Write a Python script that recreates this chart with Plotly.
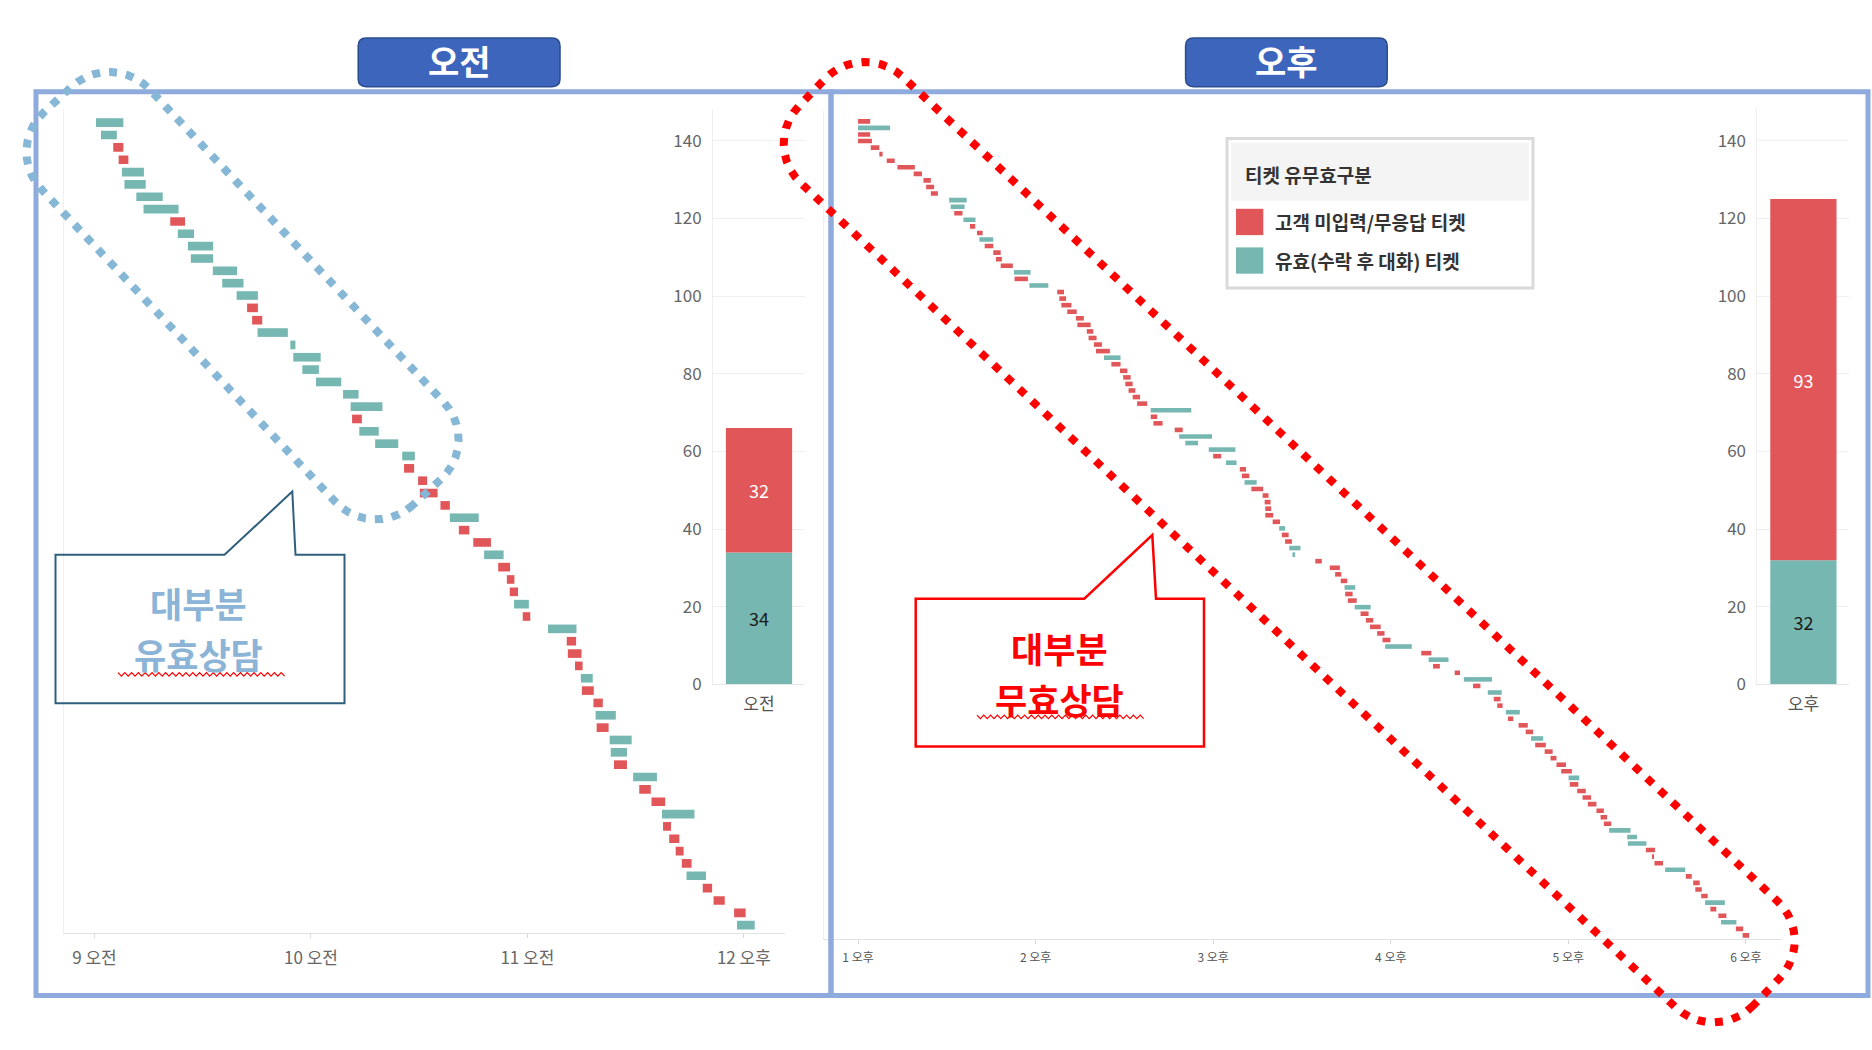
import math
import plotly.graph_objects as go

W, H = 1872, 1050

# 오전 티켓: 시작(09:00 이후 분), 상담 시간(분), 유효 여부(1=유효, 0=무효)
am_start = [0.4, 1.8, 5.2, 6.7, 7.6, 8.3, 11.6, 13.6, 21.0, 23.1,
            25.9, 26.7, 32.8, 35.4, 39.4, 42.3, 43.7, 45.2, 54.3, 55.1,
            57.6, 61.4, 68.9, 71.0, 71.4, 73.4, 77.8, 85.3, 85.8, 89.7,
            90.2, 95.9, 98.5, 101.0, 105.0, 108.0, 111.9, 114.3, 115.1, 116.3,
            118.7, 125.7, 130.9, 131.2, 133.2, 134.8, 135.1, 138.3, 138.9, 139.2,
            142.8, 143.1, 144.0, 149.3, 151.0, 154.4, 157.3, 157.6, 159.3, 161.1,
            162.8, 164.1, 168.6, 171.6, 177.3, 178.1]
am_dur = [7.6, 4.4, 2.8, 2.7, 6.1, 5.9, 7.3, 9.7, 4.1, 4.5,
          7.0, 6.2, 6.7, 5.9, 5.9, 3.0, 2.8, 8.4, 1.4, 7.6,
          4.6, 7.0, 4.3, 8.8, 2.7, 5.4, 6.4, 3.5, 2.8, 2.5,
          4.9, 2.6, 8.0, 2.9, 4.9, 5.4, 3.3, 2.1, 2.3, 4.1,
          2.1, 7.9, 2.6, 3.8, 2.1, 3.3, 3.3, 2.6, 5.6, 3.3,
          6.1, 4.5, 3.6, 6.6, 3.2, 3.8, 9.0, 2.2, 2.8, 2.2,
          2.7, 5.4, 2.6, 3.1, 3.2, 4.9]
am_valid = [1, 1, 0, 0, 1, 1, 1, 1, 0, 1,
            1, 1, 1, 1, 1, 0, 0, 1, 1, 1,
            1, 1, 1, 1, 0, 1, 1, 1, 0, 0,
            0, 0, 1, 0, 0, 1, 0, 0, 0, 1,
            0, 1, 0, 0, 0, 1, 0, 0, 1, 0,
            1, 1, 0, 1, 0, 0, 1, 0, 0, 0,
            0, 1, 0, 0, 0, 1]

# 오후 티켓: 시작(13:00 이후 분)
pm_start = [0, 0, 0, 0, 4.3, 7.2, 9.7, 13.3, 18.8, 22.1,
            23.0, 24.6, 30.8, 31.3, 32.5, 35.6, 37.8, 40.2, 41.0, 42.8,
            45.7, 46.6, 48.2, 52.7, 52.9, 57.9, 67.3, 68.0, 68.7, 70.7,
            73.6, 74.1, 77.3, 77.9, 79.7, 80.4, 83.1, 85.6, 88.5, 89.6,
            90.3, 91.4, 92.8, 94.3, 98.9, 98.9, 99.8, 107.0, 108.5, 110.6,
            118.5, 120.0, 124.3, 129.0, 129.7, 130.6, 132.9, 136.7, 137.4, 137.6,
            137.6, 140.1, 142.3, 143.2, 144.3, 145.7, 146.8, 154.5, 159.4, 161.2,
            163.1, 164.4, 164.6, 165.5, 167.8, 169.8, 171.6, 173.0, 175.4, 177.2,
            178.1, 190.3, 192.8, 194.3, 201.6, 204.7, 207.8, 212.8, 214.8, 216.0,
            218.9, 219.6, 223.2, 225.6, 227.4, 228.8, 232.0, 234.0, 236.0, 237.6,
            240.1, 240.5, 243.0, 244.8, 246.6, 249.5, 250.9, 252.0, 253.8, 259.9,
            260.1, 266.2, 268.4, 269.1, 272.7, 279.7, 282.2, 282.9, 284.9, 286.2,
            288.0, 290.7, 291.6, 296.6, 298.9]
pm_dur = [4.1, 10.8, 4.1, 4.7, 2.9, 1.1, 2.7, 5.9, 2.8, 2.5,
          2.7, 2.4, 5.9, 4.7, 2.8, 4.1, 1.8, 1.9, 4.7, 2.9,
          2.5, 2.0, 4.1, 5.6, 4.5, 6.4, 2.3, 2.3, 3.4, 3.2,
          2.7, 4.5, 2.2, 2.7, 2.7, 4.7, 5.6, 3.1, 2.5, 2.5,
          2.5, 2.3, 2.5, 3.4, 13.7, 2.2, 3.1, 2.7, 11.1, 4.3,
          9.0, 2.7, 3.6, 2.1, 2.5, 4.1, 4.0, 2.0, 2.0, 2.0,
          2.7, 2.5, 2.0, 2.3, 2.3, 3.8, 0.9, 2.2, 3.4, 2.1,
          2.2, 3.6, 2.5, 3.0, 5.4, 2.7, 2.5, 3.6, 2.5, 2.7,
          9.0, 3.4, 6.7, 2.3, 1.8, 9.5, 2.5, 4.7, 2.3, 1.8,
          4.7, 1.8, 3.1, 2.5, 4.1, 3.6, 2.7, 2.0, 3.2, 3.6,
          3.6, 2.9, 2.9, 2.9, 2.9, 2.5, 2.2, 2.5, 7.2, 3.3,
          6.3, 3.1, 0.5, 2.9, 6.8, 2.0, 2.2, 2.2, 2.2, 6.7,
          2.0, 2.7, 5.2, 2.5, 2.2]
pm_valid = [0, 1, 0, 0, 0, 0, 0, 0, 0, 0,
            0, 0, 1, 1, 0, 1, 0, 0, 1, 0,
            0, 0, 0, 1, 0, 1, 0, 0, 0, 0,
            0, 0, 0, 0, 0, 0, 1, 0, 0, 0,
            0, 0, 0, 0, 1, 0, 0, 0, 1, 1,
            1, 0, 1, 0, 0, 1, 0, 0, 0, 0,
            0, 0, 1, 0, 0, 1, 1, 0, 0, 0,
            0, 1, 0, 0, 1, 0, 0, 0, 0, 0,
            1, 0, 1, 0, 0, 1, 0, 1, 0, 0,
            1, 0, 0, 0, 1, 0, 0, 0, 0, 0,
            1, 0, 0, 0, 0, 0, 0, 0, 1, 1,
            1, 0, 0, 0, 1, 0, 0, 0, 0, 1,
            0, 0, 1, 0, 0]

am_ticks = ["9 오전", "10 오전", "11 오전", "12 오후"]
pm_ticks = ["1 오후", "2 오후", "3 오후", "4 오후", "5 오후", "6 오후"]
panel_titles = ["오전", "오후"]
legend_title = "티켓 유무효구분"
legend_labels = ["고객 미입력/무응답 티켓", "유효(수락 후 대화) 티켓"]
notes = [("대부분", "유효상담"), ("대부분", "무효상담")]

RED = "#E15759"
TEAL = "#76B7B2"
FONT = "Noto Sans CJK KR"


def px(x):
    return x / W


def py(y):
    return 1 - y / H


fig = go.Figure()


def gantt(start, dur, valid, xa, ya):
    for flag, color in [(0, RED), (1, TEAL)]:
        idx = [i for i, v in enumerate(valid) if v == flag]
        fig.add_trace(go.Bar(
            y=[i + 1 for i in idx], x=[dur[i] for i in idx], base=[start[i] for i in idx],
            orientation="h", width=0.7, marker=dict(color=color, line_width=0),
            xaxis=xa, yaxis=ya, hoverinfo="skip"))


def summary(valid, label, xa, ya):
    n_ok = sum(valid)
    n_bad = len(valid) - n_ok
    for val, base, color, tcol in [(n_ok, 0, TEAL, "#1a1a1a"), (n_bad, n_ok, RED, "white")]:
        fig.add_trace(go.Bar(
            x=[label], y=[val], base=[base], width=0.72,
            marker=dict(color=color, line_width=0),
            text=[val], textposition="inside", insidetextanchor="middle",
            textfont=dict(color=tcol, size=18, family=FONT),
            xaxis=xa, yaxis=ya, hoverinfo="skip"))


gantt(am_start, am_dur, am_valid, "x", "y")
gantt(pm_start, pm_dur, pm_valid, "x2", "y2")
summary(am_valid, panel_titles[0], "x3", "y3")
summary(pm_valid, panel_titles[1], "x4", "y4")

gx = dict(showgrid=False, zeroline=False, showline=True, linecolor="#e2e2e2",
          ticks="outside", ticklen=4, tickcolor="#d8d8d8")
gy = dict(showgrid=False, zeroline=False, showline=True, linecolor="#f0f0f0",
          showticklabels=False, ticks="")
sx = dict(type="category", range=[-0.5, 0.5], showgrid=False, zeroline=False,
          showline=True, linecolor="#e6e6e6", ticks="",
          tickfont=dict(size=17, color="#555"), ticklabelstandoff=4)
sy = dict(range=[0, 148.2], dtick=20, showgrid=True, gridcolor="#efefef", zeroline=False,
          showline=True, linecolor="#eeeeee", ticks="",
          tickfont=dict(size=17, color="#666"), ticklabelstandoff=7)

fig.update_layout(
    width=W, height=H, margin=dict(l=0, r=0, t=0, b=0),
    paper_bgcolor="white", plot_bgcolor="rgba(0,0,0,0)",
    barmode="overlay", showlegend=False, font=dict(family=FONT),
    xaxis=dict(gx, domain=[px(64), px(785)], range=[-8.45, 191.4], anchor="y",
               tickvals=[60 * i for i in range(len(am_ticks))], ticktext=am_ticks,
               tickfont=dict(size=17, color="#666"), ticklabelstandoff=6),
    yaxis=dict(gy, domain=[py(942.7), py(110)], range=[66.62, -0.12], anchor="x"),
    xaxis2=dict(gx, domain=[px(824), px(1782)], range=[-11.5, 312.2], anchor="y2",
                tickvals=[60 * i for i in range(len(pm_ticks))], ticktext=pm_ticks,
                tickfont=dict(size=12, color="#555"), ticklabelstandoff=3),
    yaxis2=dict(gy, domain=[py(949.3), py(112)], range=[125.6, -0.6], anchor="x2"),
    xaxis3=dict(sx, domain=[px(713), px(805)], anchor="y3"),
    yaxis3=dict(sy, domain=[py(691.7), py(110)], anchor="x3"),
    xaxis4=dict(sx, domain=[px(1757.4), px(1849.4)], anchor="y4"),
    yaxis4=dict(sy, domain=[py(691.7), py(110)], anchor="x4"),
)


def path_of(points, close=True):
    d = "M " + " L ".join(f"{px(x):.5f},{py(y):.5f}" for x, y in points)
    return d + (" Z" if close else "")


def rounded_box(x0, y0, x1, y1, r):
    c = lambda x, y: f"{px(x):.5f},{py(y):.5f}"
    return (f"M {c(x0 + r, y0)} L {c(x1 - r, y0)} Q {c(x1, y0)} {c(x1, y0 + r)} "
            f"L {c(x1, y1 - r)} Q {c(x1, y1)} {c(x1 - r, y1)} L {c(x0 + r, y1)} "
            f"Q {c(x0, y1)} {c(x0, y1 - r)} L {c(x0, y0 + r)} Q {c(x0, y0)} {c(x0 + r, y0)} Z")


def tilted_loop(cx, cy, half_len, half_w, ang, r):
    a = math.radians(ang)
    ca, sa = math.cos(a), math.sin(a)
    pts = []
    corners = [(half_len - r, half_w - r, 0), (-(half_len - r), half_w - r, 90),
               (-(half_len - r), -(half_w - r), 180), (half_len - r, -(half_w - r), 270)]
    for ux, uy, st in corners:
        for k in range(11):
            t = math.radians(st + 9 * k)
            lx = ux + r * math.cos(t)
            ly = uy + r * math.sin(t)
            pts.append((cx + lx * ca - ly * sa, cy + lx * sa + ly * ca))
    return path_of(pts)


def squiggle(x0, x1, y, step=3.4, amp=1.8):
    n = int((x1 - x0) / step)
    pts = [(x0 + i * step, y + (amp if i % 2 else -amp)) for i in range(n + 1)]
    return path_of(pts, close=False)


shapes = []
# 패널 테두리
for x0, x1 in [(36, 831), (831, 1868)]:
    shapes.append(dict(type="rect", xref="paper", yref="paper", x0=px(x0), x1=px(x1),
                       y0=py(1006), y1=py(92.7), line=dict(color="#8FAADC", width=5)))

# 상단 제목 박스
title_boxes = [(358.2, 560), (1185.6, 1387.2)]
for x0, x1 in title_boxes:
    shapes.append(dict(type="path", xref="paper", yref="paper", path=rounded_box(x0, 38.5, x1, 87.7, 8),
                       fillcolor="#3D65BB", line=dict(color="#2B4C8C", width=1.5)))

# 범례
shapes.append(dict(type="rect", xref="paper", yref="paper", x0=px(1227), x1=px(1533),
                   y0=py(291), y1=py(140), fillcolor="white", line=dict(color="#dadada", width=3)))
shapes.append(dict(type="rect", xref="paper", yref="paper", x0=px(1231), x1=px(1529),
                   y0=py(203), y1=py(144), fillcolor="#f4f4f4", line=dict(width=0)))
for color, yc in [(RED, 224.3), (TEAL, 263.3)]:
    shapes.append(dict(type="rect", xref="paper", yref="paper", x0=px(1236), x1=px(1263.3),
                       y0=py(yc + 13.3), y1=py(yc - 13.3), fillcolor=color, line=dict(width=0)))

# 말풍선
shapes.append(dict(type="path", xref="paper", yref="paper",
                   path=path_of([(55.5, 560.7), (224.5, 560.7), (292.3, 496.7), (295.5, 560.7),
                                 (344.5, 560.7), (344.5, 710.8), (55.5, 710.8)]),
                   line=dict(color="#2F5F7D", width=2)))
shapes.append(dict(type="path", xref="paper", yref="paper",
                   path=path_of([(915.7, 605), (1084.3, 605), (1152.3, 540.7), (1156, 605),
                                 (1204, 605), (1204, 754.3), (915.7, 754.3)]),
                   line=dict(color="#FF0000", width=2.5)))
shapes.append(dict(type="path", xref="paper", yref="paper", path=squiggle(118, 285, 681.5),
                   line=dict(color="#FF0000", width=1.2)))
shapes.append(dict(type="path", xref="paper", yref="paper", path=squiggle(977, 1146, 724.5),
                   line=dict(color="#FF0000", width=1.2)))

# 점선 강조 영역
shapes.append(dict(type="path", xref="paper", yref="paper",
                   path=tilted_loop(242.5, 298.8, 271, 74, 47.06, 55),
                   line=dict(color="#86B7D6", width=8, dash="8px,9px")))
shapes.append(dict(type="path", xref="paper", yref="paper",
                   path=tilted_loop(1289.2, 547.9, 659, 74, 43.6, 55),
                   line=dict(color="#FF0000", width=8, dash="8px,9.5px")))

annotations = []
for (x0, x1), title in zip(title_boxes, panel_titles):
    annotations.append(dict(x=px((x0 + x1) / 2), y=py(61), xref="paper", yref="paper",
                            text=title, showarrow=False, xanchor="center", yanchor="middle",
                            font=dict(size=34, color="white", family=FONT, weight=700)))

annotations.append(dict(x=px(1242.7), y=py(176), xref="paper", yref="paper", text=legend_title,
                        showarrow=False, xanchor="left", yanchor="middle",
                        font=dict(size=19, color="#333", family=FONT, weight=600)))
for label, yc in zip(legend_labels, [224.3, 263.3]):
    annotations.append(dict(x=px(1273.3), y=py(yc), xref="paper", yref="paper", text=label,
                            showarrow=False, xanchor="left", yanchor="middle",
                            font=dict(size=19, color="#333", family=FONT, weight=600)))

note_pos = [(198.6, 609.0, 660.0, "#8CB4D7"), (1059.0, 654.5, 706.0, "#FF0000")]
for (l1, l2), (x, y1, y2, col) in zip(notes, note_pos):
    for txt, y in [(l1, y1), (l2, y2)]:
        annotations.append(dict(x=px(x), y=py(y), xref="paper", yref="paper", text=txt,
                                showarrow=False, xanchor="center", yanchor="middle",
                                font=dict(size=35, color=col, family=FONT, weight=700)))

fig.update_layout(shapes=shapes, annotations=annotations)

fig.write_html("out.html", config={"displayModeBar": False},
               post_script="document.body.style.margin='0';document.body.style.overflow='hidden';")
